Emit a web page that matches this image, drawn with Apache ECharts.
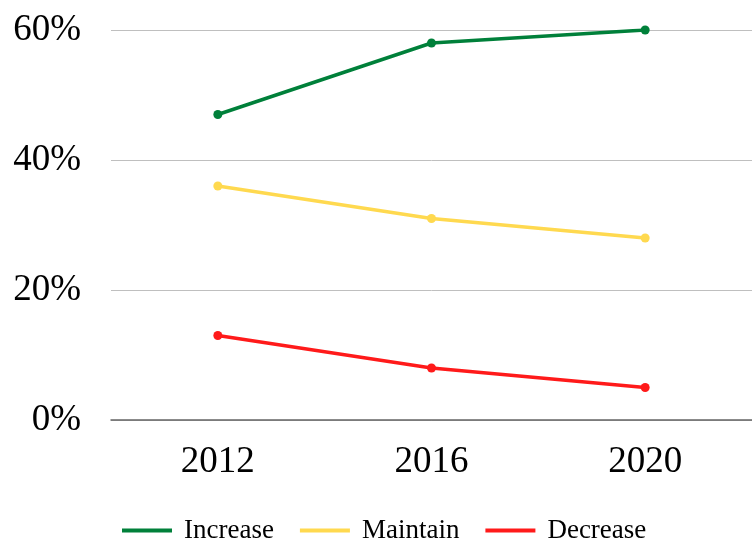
<!DOCTYPE html>
<html>
<head>
<meta charset="utf-8">
<script src="https://cdn.jsdelivr.net/npm/echarts@6/dist/echarts.min.js"></script>
<style>
  html, body { margin: 0; padding: 0; background: #fff; }
  #chart { width: 752px; height: 541px; }
</style>
</head>
<body>
<div id="chart"></div>
<script>
const years = ["2012", "2016", "2020"];
const increase = [47, 58, 60];
const maintain = [36, 31, 28];
const decrease = [13, 8, 5];
const colors = ["#00803a", "#ffd94f", "#ff1a1a"];

const font = "'Liberation Serif', 'DejaVu Serif', serif";

function line(name, data) {
  return {
    name: name,
    type: "line",
    data: data,
    symbol: "circle",
    symbolSize: 9,
    lineStyle: { width: 3.5 },
    emphasis: { disabled: true }
  };
}

const c = echarts.init(document.getElementById("chart"));
c.setOption({
  color: colors,
  animation: false,
  textStyle: { fontFamily: font },
  grid: { left: 111, right: 0, top: 30, bottom: 121 },
  legend: {
    left: 122,
    top: 517,
    padding: 0,
    itemWidth: 50,
    itemHeight: 4,
    itemGap: 26,
    icon: "rect",
    textStyle: { fontSize: 27, color: "#000", fontFamily: font, padding: [0, 0, 0, 7] }
  },
  xAxis: {
    type: "category",
    data: years,
    axisTick: { show: false },
    axisLine: { lineStyle: { color: "#666", width: 1.5 } },
    axisLabel: { fontSize: 37, color: "#000", margin: 24, fontFamily: font }
  },
  yAxis: {
    type: "value",
    min: 0,
    max: 60,
    interval: 20,
    axisLabel: { fontSize: 37, color: "#000", margin: 30, formatter: "{value}%", fontFamily: font },
    splitLine: { lineStyle: { color: "#bfbfbf", width: 1 } }
  },
  series: [
    line("Increase", increase),
    line("Maintain", maintain),
    line("Decrease", decrease)
  ]
});
</script>
</body>
</html>
